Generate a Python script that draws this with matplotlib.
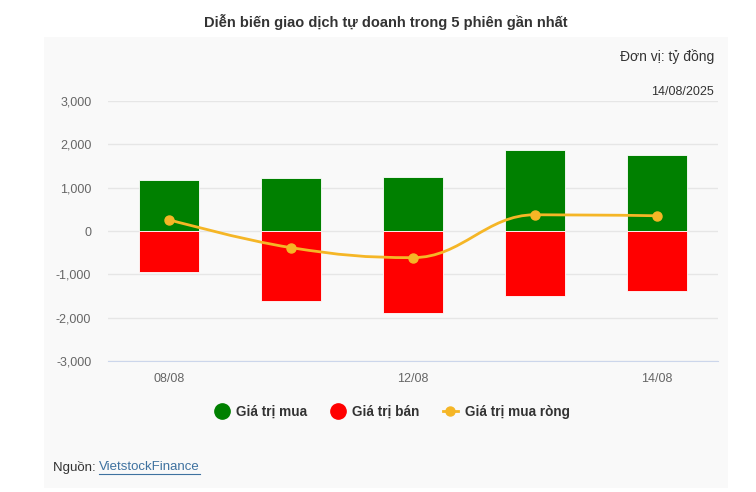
import matplotlib
matplotlib.use('Agg')

import matplotlib.pyplot as plt
import numpy as np
from matplotlib.path import Path
from matplotlib.patches import PathPatch
from matplotlib.lines import Line2D

plt.rcParams['font.family'] = ['Liberation Sans', 'DejaVu Sans']

# ==========================================
# Dữ liệu (tỷ đồng)
# ==========================================
sessions = ['08/08', '11/08', '12/08', '13/08', '14/08']
shown_ticks = ['08/08', '12/08', '14/08']
buy_values = [1180, 1226, 1256, 1877, 1751]
sell_values = [-947, -1623, -1885, -1492, -1392]
net_values = [260, -384, -615, 375, 352]
y_ticks = [-3000, -2000, -1000, 0, 1000, 2000, 3000]

GREEN = '#008000'
RED = '#ff0000'
LINE = '#f5b626'
PANEL = '#f9f9f9'


def spline_path(xs, ys, smoothing=1.5):
    # duong cong kieu Highcharts spline
    n = len(xs)
    verts = [(xs[0], ys[0])]
    codes = [Path.MOVETO]
    left, right = [None] * n, [None] * n
    for i in range(1, n - 1):
        d = smoothing + 1
        lx = (smoothing * xs[i] + xs[i - 1]) / d
        ly = (smoothing * ys[i] + ys[i - 1]) / d
        rx = (smoothing * xs[i] + xs[i + 1]) / d
        ry = (smoothing * ys[i] + ys[i + 1]) / d
        corr = (ry - ly) * (rx - xs[i]) / (rx - lx) + ys[i] - ry
        ly += corr
        ry += corr
        if ly > max(ys[i - 1], ys[i]):
            ly = max(ys[i - 1], ys[i]); ry = 2 * ys[i] - ly
        elif ly < min(ys[i - 1], ys[i]):
            ly = min(ys[i - 1], ys[i]); ry = 2 * ys[i] - ly
        if ry > max(ys[i + 1], ys[i]):
            ry = max(ys[i + 1], ys[i]); ly = 2 * ys[i] - ry
        elif ry < min(ys[i + 1], ys[i]):
            ry = min(ys[i + 1], ys[i]); ly = 2 * ys[i] - ry
        left[i] = (lx, ly)
        right[i] = (rx, ry)
    for i in range(1, n):
        c1 = right[i - 1] if right[i - 1] else (xs[i - 1], ys[i - 1])
        c2 = left[i] if left[i] else (xs[i], ys[i])
        verts += [c1, c2, (xs[i], ys[i])]
        codes += [Path.CURVE4] * 3
    return Path(verts, codes)


fig = plt.figure(figsize=(7.56, 4.92), dpi=100)
fig.patch.set_facecolor('white')

# nen xam cua khung bieu do
bg = fig.add_axes([44 / 756, 1 - 488 / 492, (728 - 44) / 756, (488 - 37) / 492], zorder=-5)
bg.set_facecolor(PANEL)
bg.set_xticks([]); bg.set_yticks([])
for s in bg.spines.values():
    s.set_visible(False)

ax = fig.add_axes([108 / 756, 1 - 361 / 492, (718 - 108) / 756, (361 - 101) / 492])
ax.set_facecolor('none')

x = np.arange(len(sessions))
ax.bar(x, buy_values, width=0.49, color=GREEN, edgecolor='white', linewidth=0.6, zorder=3)
ax.bar(x, sell_values, width=0.49, color=RED, edgecolor='white', linewidth=0.6, zorder=3)

ax.add_patch(PathPatch(spline_path(list(x), net_values), facecolor='none', edgecolor=LINE,
                       linewidth=2, zorder=4))
ax.plot(x, net_values, 'o', color=LINE, markersize=6.5, zorder=5)

ax.set_xlim(-0.5, len(sessions) - 0.5)
ax.set_ylim(-3000, 3000)
ax.set_yticks(y_ticks)
ax.set_yticklabels([f'{v:,}' for v in y_ticks])
ax.set_xticks([sessions.index(s) for s in shown_ticks])
ax.set_xticklabels(shown_ticks)
ax.tick_params(axis='both', length=0, labelsize=9, labelcolor='#666666')
ax.tick_params(axis='x', pad=9)
ax.tick_params(axis='y', pad=12)
ax.grid(axis='y', color='#e6e6e6', linewidth=1, zorder=0)
for s in ['top', 'right', 'left']:
    ax.spines[s].set_visible(False)
ax.spines['bottom'].set_color('#ccd6eb')
ax.spines['bottom'].set_position(('data', -3000))

# tieu de va chu thich
fig.text(386 / 756, 1 - 22 / 492, 'Diễn biến giao dịch tự doanh trong 5 phiên gần nhất',
         ha='center', va='center', fontsize=10.5, fontweight='bold', color='#333333')
fig.text(714 / 756, 1 - 57 / 492, 'Đơn vị: tỷ đồng', ha='right', va='center', fontsize=10, color='#333333')
fig.text(714 / 756, 1 - 92 / 492, '14/08/2025', ha='right', va='center', fontsize=9, color='#333333')

handles = [
    Line2D([], [], marker='o', linestyle='none', color=GREEN, markersize=11),
    Line2D([], [], marker='o', linestyle='none', color=RED, markersize=11),
    Line2D([], [], marker='o', linestyle='-', color=LINE, markersize=6.5, linewidth=2),
]
fig.legend(handles, ['Giá trị mua', 'Giá trị bán', 'Giá trị mua ròng'],
           loc='center', bbox_to_anchor=(392 / 756, 1 - 412 / 492), ncol=3, frameon=False,
           prop={'weight': 'bold', 'size': 9.8}, handlelength=1.1, handletextpad=0.5,
           columnspacing=1.7, labelcolor='#333333')

t1 = fig.text(53 / 756, 1 - 467 / 492, 'Nguồn: ', ha='left', va='center', fontsize=9.5, color='#333333')
fig.canvas.draw()
bb = t1.get_window_extent()
t2 = fig.text(bb.x1 / 756, 1 - 467 / 492, 'VietstockFinance', ha='left', va='center', fontsize=9.5,
              color='#3f72a0', url='https://finance.vietstock.vn')
fig.canvas.draw()
bb2 = t2.get_window_extent()
fig.add_artist(Line2D([bb2.x0 / 756, bb2.x1 / 756], [(bb2.y0 - 0.5) / 492, (bb2.y0 - 0.5) / 492],
                      color='#3f72a0', linewidth=0.8, transform=fig.transFigure))

fig.savefig('out.png', dpi=100, facecolor='white')
